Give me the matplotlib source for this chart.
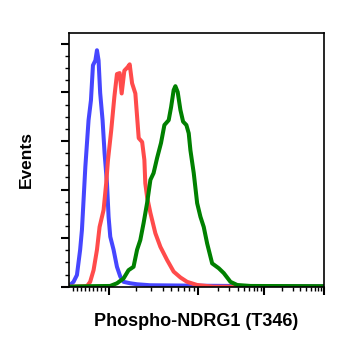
import numpy as np
import matplotlib.pyplot as plt
from matplotlib.ticker import FixedLocator, MultipleLocator, NullFormatter

# histogram traces: fluorescence intensity vs. relative event count
blue_x = [0, 4, 12.5, 21, 29, 33.5, 37.5, 42, 50, 56, 61, 67, 71, 75, 79, 85, 90, 96,
          100, 104.4, 113.7, 124, 135, 147, 175, 208, 290, 1084, 1e4, 1e5]
blue_y = [0.03, 0.035, 0.10, 0.24, 0.76, 1.17, 1.78, 2.47, 3.43, 3.84, 4.56, 4.66, 4.87, 4.66,
          3.99, 3.43, 2.75, 2.13, 1.44, 1.03, 0.76, 0.41, 0.21, 0.10, 0.07, 0.05, 0.03, 0.02, 0.01, 0.01]

red_x = [0, 46, 54, 62.5, 71, 77.5, 87.5, 94, 98.5, 107, 116, 124, 133, 140, 150, 163, 172,
         183, 199, 217, 237, 251, 257, 269, 293, 333, 379, 450, 533, 634, 753, 975, 1710, 1e4, 1e5]
red_y = [0.0, 0.01, 0.10, 0.34, 0.76, 1.23, 1.58, 2.13, 2.61, 3.22, 3.91, 4.38, 4.40, 3.98,
         4.45, 4.52, 4.58, 4.19, 3.98, 3.06, 2.98, 2.61, 2.13, 1.85, 1.52, 1.10, 0.82, 0.55,
         0.31, 0.19, 0.10, 0.035, 0.0, 0.0, 0.0]

green_x = [0, 50, 104, 124, 147, 167, 190, 208, 226, 246, 269, 293, 318, 348, 385, 420, 469,
           499, 533, 557, 591, 634, 679, 739, 785, 820, 893, 975, 1084, 1217, 1371, 1633,
           2060, 2455, 3105, 3930, 6270, 1e5]
green_y = [0.0, 0.01, 0.015, 0.07, 0.17, 0.34, 0.41, 0.76, 0.96, 1.31, 1.72, 2.20, 2.34, 2.65,
           2.96, 3.33, 3.43, 3.70, 4.05, 4.13, 4.01, 3.64, 3.40, 3.33, 3.16, 2.81, 2.34, 1.72,
           1.44, 1.23, 0.89, 0.48, 0.38, 0.28, 0.10, 0.035, 0.015, 0.01]

# biexponential-like display: linear up to 100, then log decades of unequal width
dec = [2, 3, 4, 5]
pos = [40, 129.4, 195, 255]

def fwd(x):
    x = np.asarray(x, dtype=float)
    lg = np.interp(np.log10(np.maximum(x, 100)), dec, pos)
    return np.where(x <= 100, x * 0.4, lg)

def inv(p):
    p = np.asarray(p, dtype=float)
    lg = 10 ** np.interp(np.maximum(p, 40), pos, dec)
    return np.where(p <= 40, p / 0.4, lg)

plt.rcParams['font.family'] = ['Liberation Sans', 'DejaVu Sans']

fig = plt.figure(figsize=(3.45, 3.45), dpi=100)
ax = fig.add_axes([0.1986, 0.169, 0.7404, 0.736])
ax.set_xscale('function', functions=(fwd, inv))

ax.plot(blue_x, blue_y, color='#4646ff', lw=2.9, solid_joinstyle='round')
ax.plot(red_x, red_y, color='#ff4b4b', lw=2.9, solid_joinstyle='round')
ax.plot(green_x, green_y, color='#008000', lw=2.9, solid_joinstyle='round')

ax.set_xlim(0, 1e5)
ax.set_ylim(0, 5.23)

ax.xaxis.set_major_locator(FixedLocator([100, 1e3, 1e4, 1e5]))
minors = [m * 10 ** k for k in range(1, 5) for m in range(1, 10) if not (k > 1 and m == 1)]
ax.xaxis.set_minor_locator(FixedLocator(minors))
ax.xaxis.set_major_formatter(NullFormatter())
ax.xaxis.set_minor_formatter(NullFormatter())
ax.yaxis.set_major_locator(MultipleLocator(1))
ax.yaxis.set_minor_locator(MultipleLocator(0.25))
ax.yaxis.set_major_formatter(NullFormatter())

ax.tick_params(which='major', length=5.5, width=1.5, direction='out')
ax.tick_params(which='minor', length=3, width=1, direction='out')
for s in ax.spines.values():
    s.set_linewidth(1.2)

ax.set_xlabel('Phospho-NDRG1 (T346)', fontsize=13, fontweight='bold', labelpad=10)
ax.set_ylabel('Events', fontsize=12.5, fontweight='bold', labelpad=16)

fig.savefig('out.png', dpi=100)
